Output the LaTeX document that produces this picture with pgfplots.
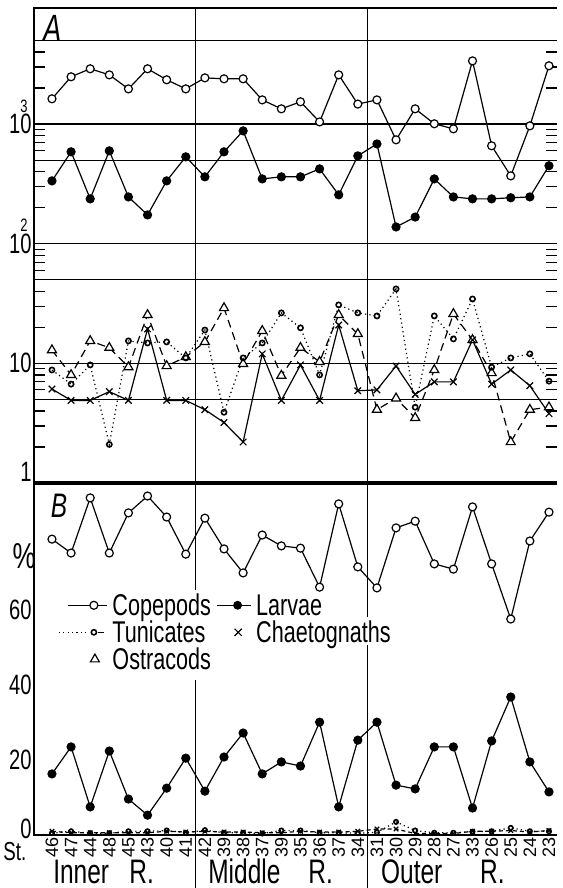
\documentclass[border=0pt]{standalone}
\usepackage{fontspec}
\setmainfont{Liberation Sans}
\newfontfamily\cond{Liberation Sans}[FakeStretch=0.72]
\usepackage{pgfplots}
\usepackage{pgfplotstable}
\pgfplotsset{compat=1.18}

% panel A: numbers per haul (log scale), station index 0..26
\pgfplotstableread{
i cop lar tun cha ost
0 1626 335 8.8 6.1 12.9
1 2483 586 6.7 4.9 8.0
2 2897 237 9.7 4.9 15.4
3 2576 597 2.1 5.8 13.5
4 1968 246 15.4 4.9 9.3
5 2897 174 14.8 19.4 25.4
6 2344 335 15.1 4.9 9.5
7 1968 532 11.1 4.9 11.3
8 2432 362 19.0 4.1 15.1
9 2388 586 3.9 3.2 29.0
10 2388 877 11.1 2.2 9.9
11 1592 348 14.8 12.0 18.7
12 1340 362 26.4 4.9 7.9
13 1535 362 19.8 9.7 13.5
14 1042 422 8.0 4.9 10.3
15 2576 256 30.8 20.9 25.4
16 1469 542 26.4 5.9 17.6
17 1592 682 24.9 6.0 4.1
18 738 138 41.9 9.5 5.1
19 1340 167 4.3 5.5 3.5
20 1005 348 24.9 7.0 8.8
21 912 246 16.0 7.0 25.9
22 3373 237 34.5 15.7 15.7
23 658 237 9.3 6.7 8.3
24 369 242 11.1 8.8 2.2
25 966 246 12.0 6.5 4.1
26 3069 448 7.1 3.8 4.3
}\abs

% panel B: percent composition
\pgfplotstableread{
i cop lar tun cha
0 78.9 16.3 0.5 1.0
1 75.2 23.5 1.0 0.6
2 89.9 7.5 0.5 0.6
3 75.2 22.4 0.5 0.6
4 85.9 9.6 1.0 0.6
5 90.4 5.3 1.0 0.6
6 84.8 12.5 1.2 1.0
7 74.9 20.5 0.6 0.8
8 84.5 11.7 1.3 1.0
9 76.3 20.8 0.6 0.8
10 69.9 27.2 0.6 0.8
11 80.0 16.3 0.4 0.6
12 77.1 19.5 1.2 0.6
13 76.5 18.4 1.2 1.0
14 66.1 30.1 0.6 0.8
15 88.3 7.5 0.6 0.8
16 71.5 25.3 0.5 1.0
17 65.9 30.1 0.7 1.6
18 81.9 13.3 3.5 1.6
19 83.7 12.3 1.2 0.4
20 72.3 23.5 0.6 0.4
21 70.9 23.5 0.6 0.4
22 87.5 7.2 0.9 1.0
23 72.3 25.1 1.0 1.0
24 57.6 36.8 1.9 1.2
25 78.4 19.5 1.0 0.8
26 86.1 11.5 1.0 1.2
}\pct

\newcommand\dec[1]{1\rlap{\smash{\raisebox{10.8pt}{\fontsize{9}{9}\selectfont #1}}}0}

\pgfplotsset{
  cop/.style={black, line width=0.6pt, mark=*, mark size=2pt, mark options={fill=white, solid}},
  lar/.style={black, line width=0.6pt, mark=*, mark size=2pt, mark options={fill=black, solid}},
  tun/.style={black, line width=0.6pt, dash pattern=on 0.6pt off 1.6pt, mark=o, mark size=1.3pt, mark options={solid, line width=0.8pt}},
  cha/.style={black, line width=0.6pt, mark=x, mark size=2.3pt, mark options={solid}},
  ost/.style={black, line width=0.6pt, dash pattern=on 4pt off 2.5pt, mark=triangle*, mark size=2.6pt, mark options={solid, fill=white}},
}

\begin{document}
\begin{tikzpicture}
\path[use as bounding box] (0,0) rectangle (281pt,-444pt);

\begin{axis}[
  at={(17pt,-4pt)}, anchor=north west,
  scale only axis, width=261.5pt, height=237.5pt,
  xmin=-0.94, xmax=26.42, xtick=\empty,
  ymode=log, ymin=1, ymax=9330,
  ytick={1,10,100,1000}, yticklabels={,10,\dec{2},\dec{3}},
  minor ytick={2,3,4,6,7,8,9,20,30,40,60,70,80,90,200,300,400,600,700,800,900,2000,3000,4000},
  extra y ticks={5,50,500,5000}, extra y tick labels={},
  extra y tick style={grid=major},
  ymajorgrids, major grid style={black, line width=0.55pt},
  major tick length=0pt, minor tick length=5.5pt,
  every tick/.style={black, line width=0.6pt},
  yticklabel style={font=\cond\fontsize{14}{14}\selectfont, inner xsep=1pt},
  axis line style={draw=none},
  clip=false,
]
\addplot[ost] table[x=i, y=ost]{\abs};
\addplot[tun] table[x=i, y=tun]{\abs};
\addplot[cha] table[x=i, y=cha]{\abs};
\addplot[lar] table[x=i, y=lar]{\abs};
\addplot[cop] table[x=i, y=cop]{\abs};
\draw[line width=0.8pt] (rel axis cs:0,0) -- (rel axis cs:0,1) -- (rel axis cs:1,1);
\draw[line width=0.6pt] (axis cs:7.5,1) -- (axis cs:7.5,9330);
\draw[line width=0.6pt] (axis cs:16.5,1) -- (axis cs:16.5,9330);
\node[font=\cond\itshape\fontsize{19}{19}\selectfont] at (axis cs:0.05,6300) {A};
\node[anchor=east, inner xsep=1pt, font=\cond\fontsize{14}{14}\selectfont] at ([yshift=5.5pt]axis cs:-0.94,1) {1};
\end{axis}

\begin{axis}[
  at={(17pt,-241.5pt)}, anchor=north west,
  scale only axis, width=261.5pt, height=176pt,
  xmin=-0.94, xmax=26.42, ymin=0, ymax=93.87,
  xtick={0,...,26},
  xticklabels={46,47,44,48,45,43,40,41,42,39,38,37,39,35,36,37,34,31,30,29,28,27,33,26,25,24,23},
  xticklabel style={rotate=90, anchor=east, font=\fontsize{9}{9}\selectfont, inner sep=1pt},
  ytick={0,20,40,60}, yticklabels={\raisebox{3.5pt}[10pt][0pt]{0},20,40,60},
  yticklabel style={font=\cond\fontsize{14}{14}\selectfont, inner xsep=1pt},
  major tick length=0pt,
  axis line style={draw=none},
  clip=false,
  legend cell align=left,
  legend columns=2,
  legend style={at={(axis cs:0.31,64.3)}, anchor=north west, draw=none, fill=none,
    inner sep=0pt, column sep=2.5pt, row sep=2.5pt,
    font=\cond\fontsize{15}{15}\selectfont,
    nodes={inner sep=0pt, text height=10.5pt, text depth=0.5pt}},
]
\addplot[tun, mark size=1.1pt, forget plot] table[x=i, y=tun]{\pct};
\addplot[cha, dash pattern=on 2pt off 1.5pt, mark size=1.6pt, forget plot] table[x=i, y=cha]{\pct};
\addplot[lar, forget plot] table[x=i, y=lar]{\pct};
\addplot[cop, forget plot] table[x=i, y=cop]{\pct};

\addlegendimage{legend image code/.code={
  \path[draw=none, fill=none] (0pt,-3pt) rectangle (24pt,3pt);
  \draw[black, line width=0.6pt] (4.5pt,0pt) -- (24pt,0pt);
  \draw[black, line width=0.6pt, fill=white] (17.5pt,0pt) circle (2pt);}}
\addlegendentry{Copepods}
\addlegendimage{legend image code/.code={
  \path[draw=none, fill=none] (0pt,-3pt) rectangle (17pt,3pt);
  \draw[black, line width=0.6pt] (0pt,0pt) -- (17pt,0pt);
  \fill[black] (10.5pt,0pt) circle (2pt);}}
\addlegendentry{Larvae}
\addlegendimage{legend image code/.code={
  \path[draw=none, fill=none] (0pt,-3pt) rectangle (24pt,3pt);
  \draw[black, line width=0.6pt, dash pattern=on 0.6pt off 1.6pt] (0pt,0pt) -- (15pt,0pt);
  \draw[black, line width=0.6pt] (19.5pt,0pt) -- (22.5pt,0pt);
  \draw[black, line width=0.8pt, fill=white] (17.5pt,0pt) circle (1.3pt);}}
\addlegendentry{Tunicates}
\addlegendimage{legend image code/.code={
  \path[draw=none, fill=none] (0pt,-3pt) rectangle (17pt,3pt);
  \draw[black, line width=0.6pt] (9pt,-1.8pt) -- (12.6pt,1.8pt) (9pt,1.8pt) -- (12.6pt,-1.8pt);}}
\addlegendentry{Chaetognaths}
\addlegendimage{legend image code/.code={
  \path[draw=none, fill=none] (0pt,-3pt) rectangle (24pt,3pt);
  \draw[black, line width=0.6pt, fill=white] (18pt,2.6pt) -- (15.75pt,-1.3pt) -- (20.25pt,-1.3pt) -- cycle;}}
\addlegendentry{Ostracods}

\draw[line width=1.6pt] (rel axis cs:0,1) -- (rel axis cs:1,1);
\draw[line width=0.8pt] (rel axis cs:0,1) -- (rel axis cs:0,0) -- (rel axis cs:1,0);
\draw[line width=0.6pt] (axis cs:7.5,93.87) -- (axis cs:7.5,65.3);
\draw[line width=0.6pt] (axis cs:7.5,41.3) -- (axis cs:7.5,-14.2);
\draw[line width=0.6pt] (axis cs:16.5,93.87) -- (axis cs:16.5,58.1);
\draw[line width=0.6pt] (axis cs:16.5,50.7) -- (axis cs:16.5,-14.2);
\node[font=\cond\itshape\fontsize{17}{17}\selectfont] at (axis cs:0.37,87.7) {B};
\node[font=\cond\fontsize{18}{18}\selectfont] at (axis cs:-1.46,74.4) {\%};
\node[font=\cond\fontsize{13}{13}\selectfont] at (axis cs:-1.94,-4.3) {St.};
\begin{scope}[every node/.style={anchor=base west, inner sep=0pt, font=\cond\fontsize{17}{17}\selectfont}]
\node at (axis cs:0.05,-13.0) {Inner};
\node at (axis cs:4.03,-13.0) {R.};
\node at (axis cs:8.16,-13.0) {Middle};
\node at (axis cs:13.39,-13.0) {R.};
\node at (axis cs:17.2,-13.0) {Outer};
\node at (axis cs:22.38,-13.0) {R.};
\end{scope}
\end{axis}
\end{tikzpicture}
\end{document}
